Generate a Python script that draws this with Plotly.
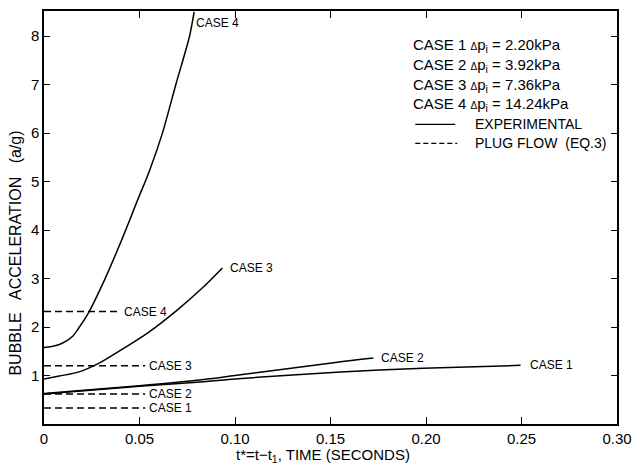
import plotly.graph_objects as go

# Experimental curves (t in s, a/g)
case1_t = [0, 0.05, 0.08, 0.10, 0.153, 0.1985, 0.2495]
case1_a = [0.62, 0.78, 0.86, 0.93, 1.07, 1.15, 1.21]
case2_t = [0, 0.05, 0.08, 0.10, 0.1526, 0.1724]
case2_a = [0.63, 0.79, 0.90, 1.00, 1.27, 1.36]
case3_t = [0, 0.008, 0.018, 0.0286, 0.040, 0.054, 0.0694, 0.083, 0.0934]
case3_a = [0.93, 0.99, 1.07, 1.25, 1.52, 1.87, 2.34, 2.81, 3.22]
case4_t = [0, 0.004, 0.008, 0.012, 0.015, 0.018, 0.0235, 0.032, 0.0388, 0.044, 0.049, 0.055, 0.062, 0.069, 0.0762, 0.0786]
case4_a = [1.58, 1.60, 1.64, 1.72, 1.81, 1.97, 2.31, 3.0, 3.62, 4.12, 4.62, 5.2, 6.0, 7.0, 8.0, 8.5]

# Plug flow (Eq.3) levels
plug_levels = [0.33, 0.62, 1.2, 2.32]
plug_ends = [0.053, 0.053, 0.053, 0.040]
case_names = ["CASE 1", "CASE 2", "CASE 3", "CASE 4"]
dp_values = ["2.20", "3.92", "7.36", "14.24"]

x_ticks = [0, 0.05, 0.10, 0.15, 0.20, 0.25, 0.30]
x_ticktext = ["0", "0.05", "0.10", "0.15", "0.20", "0.25", "0.30"]
y_ticks = [1, 2, 3, 4, 5, 6, 7, 8]

FONT = "Liberation Sans Narrow, Liberation Sans, Arial, sans-serif"

fig = go.Figure()
exp = [(case1_t, case1_a), (case2_t, case2_a), (case3_t, case3_a), (case4_t, case4_a)]
for (t, a) in exp:
    fig.add_trace(go.Scatter(x=t, y=a, mode="lines",
                             line=dict(color="black", width=1.5, shape="spline", smoothing=0.8),
                             showlegend=False, hoverinfo="skip"))
for lvl, end in zip(plug_levels, plug_ends):
    fig.add_trace(go.Scatter(x=[0, end], y=[lvl, lvl], mode="lines",
                             line=dict(color="black", width=1.5, dash="7px,4px"),
                             showlegend=False, hoverinfo="skip"))

ann = []
lab_font = dict(family=FONT, size=12, color="black")
# labels at curve ends
ann.append(dict(x=case4_t[-1], y=case4_a[-1] - 0.22, text="CASE 4", xanchor="left", yanchor="middle", showarrow=False, font=lab_font))
ann.append(dict(x=case3_t[-1] + 0.003, y=case3_a[-1], text="CASE 3", xanchor="left", yanchor="middle", showarrow=False, font=lab_font))
ann.append(dict(x=case2_t[-1] + 0.003, y=case2_a[-1], text="CASE 2", xanchor="left", yanchor="middle", showarrow=False, font=lab_font))
ann.append(dict(x=case1_t[-1] + 0.004, y=case1_a[-1], text="CASE 1", xanchor="left", yanchor="middle", showarrow=False, font=lab_font))
# labels at plug flow ends
for lvl, end, nm in zip(plug_levels, plug_ends, case_names):
    ann.append(dict(x=end + 0.001, y=lvl, text=nm, xanchor="left", yanchor="middle", showarrow=False, font=lab_font))

# legend block (paper coords via pixels)
W, H = 641, 465
L, R, T, B = 44, 9, 9, 41
pw, ph = W - L - R, H - T - B
def px(x):
    return (x - L) / pw
def py(y):
    return (H - B - y) / ph

leg_font = dict(family=FONT, size=15, color="black")
leg_font2 = dict(family=FONT, size=14, color="black")
for i, (nm, dp) in enumerate(zip(case_names, dp_values)):
    ann.append(dict(xref="paper", yref="paper", x=px(421), y=py(44 + 19.7 * i),
                    text=f"{nm} <span style='font-size:10px'>Δ</span>p<sub>i</sub> = {dp}kPa",
                    xanchor="left", yanchor="middle", showarrow=False, font=leg_font))
ann.append(dict(xref="paper", yref="paper", x=px(484), y=py(123), text="EXPERIMENTAL",
                xanchor="left", yanchor="middle", showarrow=False, font=leg_font2))
ann.append(dict(xref="paper", yref="paper", x=px(484), y=py(142), text="PLUG FLOW  (EQ.3)",
                xanchor="left", yanchor="middle", showarrow=False, font=leg_font2))

# axis titles
ann.append(dict(xref="paper", yref="paper", x=px(330), y=py(456), text="t*=t−t<sub>1</sub>, TIME (SECONDS)",
                xanchor="center", yanchor="middle", showarrow=False, font=dict(family=FONT, size=15, color="black")))
ann.append(dict(xref="paper", yref="paper", x=px(15), y=py(252), text="BUBBLE   ACCELERATION   (a/g)", textangle=-90,
                xanchor="center", yanchor="middle", showarrow=False, font=dict(family=FONT, size=16, color="black")))

shapes = [
    dict(type="line", xref="paper", yref="paper", x0=px(425), x1=px(466), y0=py(123), y1=py(123),
         line=dict(color="black", width=1.3)),
    dict(type="line", xref="paper", yref="paper", x0=px(425), x1=px(468), y0=py(142), y1=py(142),
         line=dict(color="black", width=1.3, dash="5px,3px")),
]

fig.update_layout(
    width=W, height=H, margin=dict(l=L, r=R, t=T, b=B),
    paper_bgcolor="white", plot_bgcolor="white",
    annotations=ann, shapes=shapes, showlegend=False,
    font=dict(family=FONT, size=13, color="black"),
)
fig.update_xaxes(range=[0, 0.30], tickvals=x_ticks, ticktext=x_ticktext, ticks="inside", ticklen=7,
                 tickwidth=1.3, tickcolor="black", showline=True, linecolor="black", linewidth=1.5,
                 mirror="ticks", showgrid=False, zeroline=False, ticklabeloverflow="allow",
                 tickfont=dict(family=FONT, size=15))
fig.update_yaxes(range=[0, 8.52], tickvals=y_ticks, ticks="inside", ticklen=6,
                 tickwidth=1.3, tickcolor="black", showline=True, linecolor="black", linewidth=1.5,
                 mirror="ticks", showgrid=False, zeroline=False, ticklabeloverflow="allow",
                 tickfont=dict(family=FONT, size=15))

fig.write_html("out.html")
